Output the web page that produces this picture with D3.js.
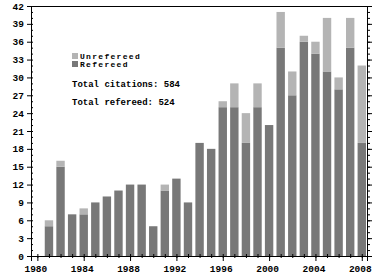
<!DOCTYPE html>
<html>
<head>
<meta charset="utf-8">
<script src="https://cdn.jsdelivr.net/npm/d3@7"></script>
<style>
  body { margin: 0; background: #fff; }
  text { font-family: "Liberation Mono", monospace; font-weight: bold; fill: #000; }
</style>
</head>
<body>
<script>
var w = 382;
var h = 277;

var years = [1980,1981,1982,1983,1984,1985,1986,1987,1988,1989,1990,1991,1992,1993,1994,
             1995,1996,1997,1998,1999,2000,2001,2002,2003,2004,2005,2006,2007,2008];
var refereed   = [0,5,15,7,7,9,10,11,12,12,5,11,13,9,19,18,25,25,19,25,22,35,27,36,34,31,28,35,19];
var unrefereed = [0,1,1,0,1,0,0,0,0,0,0,1,0,0,0,0,1,4,5,4,0,6,4,1,2,9,2,5,13];
var yTicks = [0,3,6,9,12,15,18,21,24,27,30,33,36,39,42];
var xTicks = [1980,1984,1988,1992,1996,2000,2004,2008];

var rows = years.map(function(y, i) {
    return { year: y, refereed: refereed[i], unrefereed: unrefereed[i] };
});

var xScale = d3.scaleLinear().domain([1979.45, 2008.45]).range([31, 367]);
var yScale = d3.scaleLinear().domain([0, 42]).range([256, 6]);
var barW = 8.4;

var svg = d3.select("body").append("svg")
    .attr("width", w)
    .attr("height", h);

var stack = d3.stack().keys(["refereed", "unrefereed"])(rows);
var colors = { refereed: "#787878", unrefereed: "#b4b4b4" };

svg.selectAll("g.layer")
    .data(stack)
    .enter()
    .append("g")
    .attr("fill", function(d) { return colors[d.key]; })
    .selectAll("rect")
    .data(function(d) { return d; })
    .enter()
    .append("rect")
    .attr("x", function(d) { return xScale(d.data.year) - barW / 2; })
    .attr("width", barW)
    .attr("y", function(d) { return yScale(d[1]); })
    .attr("height", function(d) { return yScale(d[0]) - yScale(d[1]); });

// left axis: labels + outward major ticks
svg.append("g")
    .attr("transform", "translate(31,0)")
    .call(d3.axisLeft(yScale).tickValues(yTicks).tickSize(4).tickPadding(3))
    .call(function(g) {
        g.select(".domain").attr("stroke", "#000");
        g.selectAll("text").style("font-size", "9.5px");
    });
// left minor ticks, inward
svg.append("g")
    .attr("transform", "translate(31,0)")
    .call(d3.axisRight(yScale).ticks(42).tickSize(2).tickFormat(""))
    .select(".domain").remove();

// right axis, ticks outward, no labels
svg.append("g")
    .attr("transform", "translate(367,0)")
    .call(d3.axisRight(yScale).ticks(42).tickSize(3).tickFormat(""));
svg.append("g")
    .attr("transform", "translate(367,0)")
    .call(d3.axisRight(yScale).tickValues(yTicks).tickSize(5).tickFormat(""))
    .select(".domain").remove();

// bottom axis
svg.append("g")
    .attr("transform", "translate(0,256)")
    .call(d3.axisBottom(xScale).tickValues(xTicks).tickSize(5).tickPadding(4).tickFormat(d3.format("d")))
    .call(function(g) {
        g.selectAll("text").style("font-size", "9.5px").attr("dx", "-2");
    });
svg.append("g")
    .attr("transform", "translate(0,256)")
    .call(d3.axisTop(xScale).tickValues(years).tickSize(2).tickFormat(""))
    .select(".domain").remove();
svg.append("g")
    .attr("transform", "translate(0,256)")
    .call(d3.axisBottom(xScale).tickValues(years).tickSize(2).tickFormat(""))
    .select(".domain").remove();

// top frame line
svg.append("line")
    .attr("x1", 31).attr("x2", 367)
    .attr("y1", 6.5).attr("y2", 6.5)
    .attr("stroke", "#000");

// legend
var legend = [
    { label: "Unrefereed", color: colors.unrefereed, y: 56 },
    { label: "Refereed", color: colors.refereed, y: 64 }
];
var lg = svg.selectAll("g.legend")
    .data(legend)
    .enter()
    .append("g");
lg.append("rect")
    .attr("x", 72)
    .attr("y", function(d) { return d.y - 3; })
    .attr("width", 6)
    .attr("height", 6)
    .attr("fill", function(d) { return d.color; });
lg.append("text")
    .attr("x", 80)
    .attr("y", function(d) { return d.y + 3; })
    .style("font-size", "8px")
    .style("letter-spacing", "1.3px")
    .text(function(d) { return d.label; });

svg.append("text")
    .attr("x", 72).attr("y", 87)
    .style("font-size", "9px")
    .text("Total citations: " + d3.sum(refereed.concat(unrefereed)));
svg.append("text")
    .attr("x", 72).attr("y", 105)
    .style("font-size", "9px")
    .text("Total refereed: " + d3.sum(refereed));
</script>
</body>
</html>
